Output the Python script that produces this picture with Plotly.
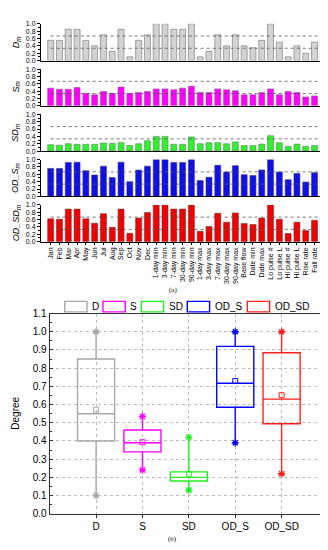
import plotly.graph_objects as go
import numpy as np

categories = ["Jan", "Feb", "Mar", "Apr", "May", "Jun", "Jul", "Aug", "Sep", "Oct", "Nov", "Dec",
              "1-day min", "3-day min", "7-day min", "30-day min", "90-day min",
              "1-day max", "3-day max", "7-day max", "30-day max", "90-day max",
              "Base flow", "Date min", "Date max", "Lo pulse #", "Lo pulse L", "Hi pulse #", "Hi pulse L",
              "Rise rate", "Fall rate", "Reversals"]

D = [0.55, 0.55, 0.85, 0.85, 0.55, 0.40, 0.70, 0.25, 0.85, 0.10, 0.55, 0.70, 1.0, 1.0, 0.85, 0.85, 1.0,
     0.10, 0.25, 0.70, 0.40, 0.70, 0.40, 0.35, 0.55, 1.0, 0.50, 0.10, 0.40, 0.20, 0.50, 0.55]
S = [0.48, 0.45, 0.45, 0.50, 0.34, 0.30, 0.39, 0.34, 0.51, 0.34, 0.365, 0.39, 0.46, 0.46, 0.435, 0.48, 0.535,
     0.36, 0.36, 0.46, 0.435, 0.41, 0.30, 0.30, 0.365, 0.46, 0.30, 0.39, 0.365, 0.24, 0.27, 0.34]
SD = [0.175, 0.16, 0.20, 0.185, 0.185, 0.185, 0.22, 0.21, 0.23, 0.15, 0.20, 0.28, 0.40, 0.40, 0.185, 0.185, 0.385,
      0.20, 0.23, 0.23, 0.20, 0.25, 0.15, 0.15, 0.19, 0.42, 0.23, 0.13, 0.19, 0.13, 0.15, 0.26]
OD_S = [0.76, 0.76, 0.92, 0.93, 0.70, 0.58, 0.82, 0.51, 0.93, 0.40, 0.715, 0.82, 1.0, 1.0, 0.92, 0.92, 1.0,
        0.43, 0.52, 0.845, 0.66, 0.835, 0.59, 0.57, 0.72, 1.0, 0.66, 0.455, 0.62, 0.39, 0.645, 0.71]
OD_SD = [0.62, 0.61, 0.885, 0.885, 0.62, 0.50, 0.76, 0.39, 0.885, 0.225, 0.64, 0.79, 1.0, 1.0, 0.885, 0.885, 1.0,
         0.28, 0.41, 0.77, 0.53, 0.78, 0.49, 0.465, 0.64, 1.0, 0.61, 0.22, 0.53, 0.30, 0.58, 0.665]

series_names = ["D", "S", "SD", "OD_S", "OD_SD"]
series_values = [D, S, SD, OD_S, OD_SD]
panel_titles = ["<i>D</i><sub><i>m</i></sub>", "<i>S</i><sub><i>m</i></sub>", "<i>SD</i><sub><i>m</i></sub>",
                "<i>OD_S</i><sub><i>m</i></sub>", "<i>OD_SD</i><sub><i>m</i></sub>"]
thresholds = [1 / 3, 2 / 3]
bar_ticks = [0, 0.2, 0.4, 0.6, 0.8, 1.0]

bar_fill = ["#d3d3d3", "#ff00ff", "#33ee33", "#1010e6", "#f00000"]
bar_edge = ["#707070", "#8a5a8a", "#5a8a5a", "#3a3a7a", "#7a3030"]
box_color = ["#a8a8a8", "#ff00ff", "#22ee22", "#0000ff", "#ff2020"]

W, H = 328, 550
FONT = "Liberation Sans, Arial, sans-serif"

def py(px):
    return 1 - px / H

fig = go.Figure()
layout = dict(width=W, height=H, margin=dict(l=0, r=0, t=0, b=0),
              paper_bgcolor="white", plot_bgcolor="white", showlegend=False,
              font=dict(family=FONT, size=7, color="black"), boxmode="overlay")

annotations = []
shapes = []
panel_top0, panel_h, panel_step = 11.0, 37.5, 46.2
xdom_a = [33 / W, 325 / W]
for i, (name, vals) in enumerate(zip(series_names, series_values)):
    k = i + 1
    xa = "x" if k == 1 else f"x{k}"
    ya = "y" if k == 1 else f"y{k}"
    fig.add_trace(go.Bar(x=categories, y=vals, xaxis=xa, yaxis=ya, showlegend=False,
                         marker=dict(color=bar_fill[i], line=dict(color=bar_edge[i], width=0.6)),
                         width=0.68))
    top = panel_top0 + i * panel_step
    bot = top + panel_h
    layout[f"xaxis{k}"] = dict(domain=xdom_a, anchor=ya, type="category", range=[-1.1, 32.1],
                               tickmode="array", tickvals=categories, ticktext=categories,
                               showline=True, linecolor="black", linewidth=1, showgrid=False,
                               showticklabels=(k == 5), tickangle=-90, tickfont=dict(size=7),
                               ticks="outside" if k == 5 else "", ticklen=2, tickcolor="black")
    layout[f"yaxis{k}"] = dict(domain=[py(bot), py(top)], anchor=xa, range=[0, 1.0],
                               tickvals=bar_ticks, tickformat=".1f",
                               showline=True, linecolor="black", linewidth=1, showgrid=False,
                               zeroline=False, ticks="outside", ticklen=3, tickcolor="black",
                               tickfont=dict(size=7),
                               minor=dict(ticks="outside", ticklen=2, tickcolor="black", dtick=0.1))
    for t in thresholds:
        shapes.append(dict(type="line", xref=xa, yref=ya, x0=categories[0], x1=categories[-1],
                           y0=t, y1=t, line=dict(color="#555555", width=0.8, dash="dot"), layer="above"))
    annotations.append(dict(text=panel_titles[i], xref="paper", yref=f"{ya} domain", x=8 / W, y=0.5,
                            textangle=-90, showarrow=False, font=dict(size=9), xanchor="center",
                            yanchor="middle"))

# Box plot panel (b)
for i, (name, vals) in enumerate(zip(series_names, series_values)):
    arr = np.array(vals)
    fig.add_trace(go.Box(y=vals, x=[name] * len(vals), name=name, xaxis="x6", yaxis="y6",
                         boxpoints=False, width=0.8, whiskerwidth=0.15,
                         fillcolor="rgba(255,255,255,0)", line=dict(color=box_color[i], width=1.4),
                         quartilemethod="linear"))
    fig.add_trace(go.Scatter(x=[name], y=[arr.mean()], xaxis="x6", yaxis="y6", mode="markers",
                             showlegend=False, hoverinfo="skip",
                             marker=dict(symbol="square-open", size=5, color=box_color[i],
                                         line=dict(width=1, color=box_color[i]))))
    fig.add_trace(go.Scatter(x=[name, name], y=[arr.min(), arr.max()], xaxis="x6", yaxis="y6",
                             mode="markers", showlegend=False, hoverinfo="skip",
                             marker=dict(symbol="asterisk-open", size=6, color=box_color[i],
                                         line=dict(width=1.3, color=box_color[i]))))

layout["xaxis6"] = dict(domain=[41.7 / W, 320 / W], anchor="y6", type="category",
                        categoryorder="array", categoryarray=series_names, range=[-1, 5],
                        showline=True, mirror=True, linecolor="#333333", linewidth=1,
                        showgrid=True, gridcolor="#bbbbbb", griddash="dot", gridwidth=1,
                        tickfont=dict(size=10), ticks="outside", ticklen=3, tickcolor="#333")
layout["yaxis6"] = dict(domain=[py(511), py(306.7)], anchor="x6", range=[0, 1.1], dtick=0.1,
                        tickformat=".1f", showline=True, mirror=True, linecolor="#333333", linewidth=1,
                        showgrid=True, gridcolor="#bbbbbb", griddash="dot", gridwidth=1, zeroline=False,
                        tickfont=dict(size=10), ticks="inside", ticklen=3, tickcolor="#333",
                        minor=dict(ticks="inside", ticklen=2, tickcolor="#333", dtick=0.05))
annotations.append(dict(text="Degree", xref="paper", yref="y6 domain", x=8 / W, y=0.5, textangle=-90,
                        showarrow=False, font=dict(size=10), xanchor="center", yanchor="middle"))
annotations.append(dict(text="(a)", xref="paper", yref="paper", x=165 / W, y=py(283), showarrow=False,
                        font=dict(size=7, family="Liberation Serif, serif")))
annotations.append(dict(text="(b)", xref="paper", yref="paper", x=164 / W, y=py(543), showarrow=False,
                        font=dict(size=7, family="Liberation Serif, serif")))

# Legend (swatch + label) laid out in pixels above panel (b)
legend_left_px = [56.7, 95.0, 133.3, 179.3, 239.3]
swatch_w, swatch_top, swatch_bot, text_gap = 22.3, 294.3, 305.0, 3.0
for i, name in enumerate(series_names):
    x0 = legend_left_px[i]
    shapes.append(dict(type="rect", xref="paper", yref="paper", x0=x0 / W, x1=(x0 + swatch_w) / W,
                       y0=py(swatch_bot), y1=py(swatch_top), line=dict(color=box_color[i], width=1.4),
                       fillcolor="rgba(0,0,0,0)"))
    annotations.append(dict(text=name, xref="paper", yref="paper", x=(x0 + swatch_w + text_gap) / W,
                            y=py((swatch_top + swatch_bot) / 2), xanchor="left", yanchor="middle",
                            showarrow=False, font=dict(size=10)))

layout["annotations"] = annotations
layout["shapes"] = shapes
fig.update_layout(**layout)
fig.write_html("out.html")
